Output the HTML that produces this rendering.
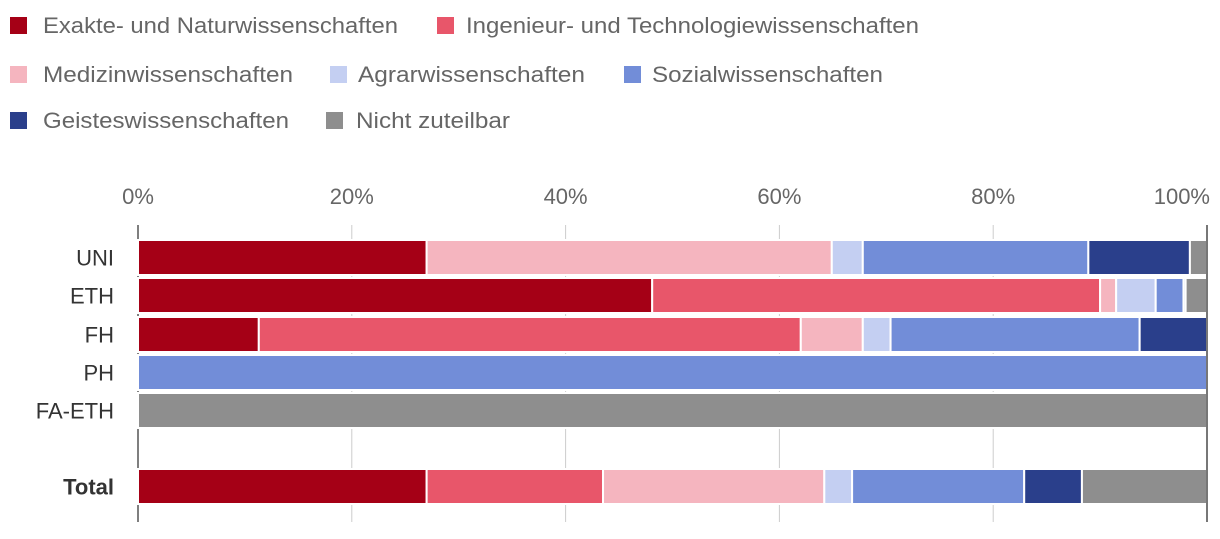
<!DOCTYPE html>
<html><head><meta charset="utf-8"><style>
body{margin:0;background:#fff;}
svg text{font-family:"Liberation Sans",sans-serif;}
</style></head><body>
<svg id="chart" width="1220" height="534"></svg>
<script>
const categories=["UNI","ETH","FH","PH","FA-ETH","Total"];
const seriesNames=["Exakte- und Naturwissenschaften","Ingenieur- und Technologiewissenschaften","Medizinwissenschaften","Agrarwissenschaften","Sozialwissenschaften","Geisteswissenschaften","Nicht zuteilbar"];
const colors=["#a50016","#e8566a","#f5b5bf","#c4cff2","#728dd8","#2a3f8b","#8e8e8e"];
const exakte=[27.0,48.1,11.3,0,0,27.0];
const ingenieur=[0,41.9,50.7,0,0,16.5];
const medizin=[37.9,1.5,5.8,0,0,20.7];
const agrar=[2.9,3.7,2.6,0,0,2.6];
const sozial=[21.1,2.6,23.3,100,0,16.1];
const geistes=[9.5,0.2,6.3,0,0,5.4];
const nicht=[1.6,2.0,0,0,100,11.7];
const ticks=[0,20,40,60,80,100];
const ns="http://www.w3.org/2000/svg";
const svg=document.getElementById('chart');
const x=v=>138+v*10.69;
const rowY=[240,278,317,355,393,469];
const bandH=35;
function el(t,a,txt){const e=document.createElementNS(ns,t);for(const k in a)e.setAttribute(k,a[k]);if(txt!==undefined)e.textContent=txt;svg.appendChild(e);return e;}
// legend
const legPos=[[10,25],[437,25],[10,74],[330,74],[624,74],[10,120],[326,120]];
const legTextX=[43,466,43,358,652,43,356];
const legW=[355,453,250,227,231,246,154];
seriesNames.forEach((n,i)=>{
 const g=el('g',{});
 
 
 const r=document.createElementNS(ns,'rect');
 r.setAttribute('x',legPos[i][0]);r.setAttribute('y',legPos[i][1]-8);r.setAttribute('width',17);r.setAttribute('height',17);r.setAttribute('fill',colors[i]);
 g.appendChild(r);
 const t=document.createElementNS(ns,'text');
 t.setAttribute('x',legTextX[i]);t.setAttribute('y',legPos[i][1]+8);t.setAttribute('font-size',22);t.setAttribute('fill','#666');
 t.setAttribute('textLength',legW[i]);t.setAttribute('lengthAdjust','spacingAndGlyphs');
 t.textContent=n;g.appendChild(t);
});
// gridlines and ticks
ticks.forEach(v=>{
 const l=el('line',{x1:x(v),x2:x(v),y1:225,y2:522,stroke:v===0?'#555':'#ccc','stroke-width':v===0?1.5:1});
 
 
 const t=el('text',{x:x(v),y:204,'font-size':22,fill:'#666','text-anchor':v===100?'end':'middle'},v+'%');
 if(v===100)t.setAttribute('x',1210);
 
 
});
const series=[exakte,ingenieur,medizin,agrar,sozial,geistes,nicht];
categories.forEach((c,ci)=>{
 const t=el('text',{x:114,y:rowY[ci]+bandH/2+8,'font-size':22,fill:'#333','text-anchor':'end','font-weight':c==='Total'?'bold':'normal'},c);
 
 
 let acc=0;
 series.forEach((s,si)=>{
  const v=s[ci];if(v<=0)return;
  const r=el('rect',{x:x(acc),y:rowY[ci],width:x(acc+v)-x(acc),height:bandH,fill:colors[si],stroke:'#fff','stroke-width':2});
  
  
  acc+=v;
 });
});
const ax=el('line',{x1:x(100),x2:x(100),y1:225,y2:522,stroke:'#777','stroke-width':2});


</script>
</body></html>
